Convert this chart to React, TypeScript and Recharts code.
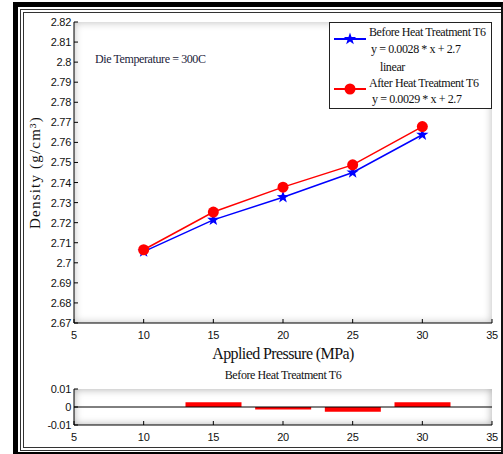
import {
  ComposedChart,
  LineChart,
  Line,
  Bar,
  XAxis,
  YAxis,
  ReferenceLine,
  Legend,
  Label,
} from "recharts";

const SANS = '"Liberation Sans", Arial, sans-serif';
const SERIF = '"Liberation Serif", "Times New Roman", serif';

const pressure = [10, 15, 20, 25, 30];
const beforeT6 = [2.7056, 2.7214, 2.7327, 2.745, 2.7638];
const afterT6 = [2.7065, 2.7253, 2.7377, 2.7488, 2.7679];
const residualBefore = [0, 0.0026, -0.0014, -0.0026, 0.0026];

const xTicks = [5, 10, 15, 20, 25, 30, 35];
const yTicks = [
  2.67, 2.68, 2.69, 2.7, 2.71, 2.72, 2.73, 2.74, 2.75, 2.76, 2.77, 2.78, 2.79,
  2.8, 2.81, 2.82,
];
const resTicks = [-0.01, 0, 0.01];

const legendLines = [
  "Before Heat Treatment T6",
  "y = 0.0028 * x + 2.7",
  "linear",
  "After Heat Treatment T6",
  "y = 0.0029 * x + 2.7",
];

const mainData = pressure.map((p, i) => ({
  p,
  before: beforeT6[i],
  after: afterT6[i],
}));
const resData = pressure.map((p, i) => ({ p, r: residualBefore[i] }));

// eslint-disable-next-line @typescript-eslint/no-explicit-any
function BottomTick(props: any) {
  const { x, y, payload } = props;
  return (
    <g>
      <line x1={x} y1={y} x2={x} y2={y - 4} stroke="#000" />
      <text
        x={x}
        y={y + 16}
        textAnchor="middle"
        fontSize={11}
        fontFamily={SANS}
        letterSpacing={-0.3}
        fill="#111"
      >
        {payload.value}
      </text>
    </g>
  );
}

// eslint-disable-next-line @typescript-eslint/no-explicit-any
function TopTick(props: any) {
  const { x, y } = props;
  return <line x1={x} y1={y} x2={x} y2={y + 4} stroke="#000" />;
}

// eslint-disable-next-line @typescript-eslint/no-explicit-any
function LeftTick(props: any) {
  const { x, y, payload } = props;
  return (
    <g>
      <line x1={x} y1={y} x2={x + 4} y2={y} stroke="#000" />
      <text
        x={x - 3}
        y={y + 4}
        textAnchor="end"
        fontSize={11}
        fontFamily={SANS}
        letterSpacing={-0.3}
        fill="#111"
      >
        {payload.value}
      </text>
    </g>
  );
}

// eslint-disable-next-line @typescript-eslint/no-explicit-any
function RightTick(props: any) {
  const { x, y } = props;
  return <line x1={x} y1={y} x2={x - 4} y2={y} stroke="#000" />;
}

function starPoints(cx: number, cy: number, ro: number, ri: number) {
  const pts: string[] = [];
  for (let k = 0; k < 10; k++) {
    const r = k % 2 === 0 ? ro : ri;
    const a = -Math.PI / 2 + (k * Math.PI) / 5;
    pts.push(`${cx + r * Math.cos(a)},${cy + r * Math.sin(a)}`);
  }
  return pts.join(" ");
}

// eslint-disable-next-line @typescript-eslint/no-explicit-any
function StarDot(props: any) {
  const { cx, cy } = props;
  if (cx == null || cy == null) return null;
  return <polygon points={starPoints(cx, cy, 6.5, 2.6)} fill="#0000ff" />;
}

// eslint-disable-next-line @typescript-eslint/no-explicit-any
function CircleDot(props: any) {
  const { cx, cy } = props;
  if (cx == null || cy == null) return null;
  return <circle cx={cx} cy={cy} r={5.5} fill="#ff0000" />;
}

function LegendBox() {
  const textX = [40, 42, 51, 40, 43];
  const textY = [14, 31, 49, 65, 81];
  return (
    <svg width={164} height={87} style={{ display: "block" }}>
      <rect x={0.5} y={0.5} width={162} height={86} fill="#fff" stroke="#222" />
      <line x1={5} y1={17} x2={37} y2={17} stroke="#0000ff" strokeWidth={2} />
      <polygon points={starPoints(21, 17, 6.5, 2.6)} fill="#0000ff" />
      <line x1={5} y1={67} x2={37} y2={67} stroke="#ff0000" strokeWidth={2} />
      <circle cx={21} cy={67} r={5.5} fill="#ff0000" />
      {legendLines.map((t, i) => (
        <text
          key={t}
          x={textX[i]}
          y={textY[i]}
          fontSize={12}
          fontFamily={SERIF}
          letterSpacing={-0.4}
          fill="#111"
        >
          {t}
        </text>
      ))}
    </svg>
  );
}

export default function App() {
  return (
    <div
      style={{
        position: "absolute",
        left: 0,
        top: 0,
        width: 503,
        height: 454,
        background: "#fff",
        overflow: "hidden",
      }}
    >
      {/* frame */}
      <div
        style={{
          position: "absolute",
          left: 13,
          top: 2,
          width: 490,
          height: 452,
          boxSizing: "border-box",
          borderLeft: "5px solid #000",
          borderTop: "5px solid #000",
          borderRight: "2px solid #111",
          borderBottom: "2px solid #000",
        }}
      />
      <div
        style={{
          position: "absolute",
          left: 20,
          top: 9,
          width: 481,
          height: 442,
          boxSizing: "border-box",
          borderLeft: "4px double #333",
          borderTop: "4px double #333",
          borderBottom: "4px double #333",
        }}
      />
      {/* inset shading of the axes boxes */}
      <div
        style={{
          position: "absolute",
          left: 74,
          top: 22,
          width: 418,
          height: 301,
          boxShadow: "inset 0 0 8px rgba(0,0,0,0.28)",
        }}
      />
      <div
        style={{
          position: "absolute",
          left: 74,
          top: 389,
          width: 418,
          height: 36,
          boxShadow: "inset 0 0 8px rgba(0,0,0,0.35)",
        }}
      />

      <div style={{ position: "absolute", left: 0, top: 0 }}>
        <LineChart
          width={503}
          height={366}
          data={mainData}
          margin={{ top: 22, right: 11, left: 14, bottom: 13 }}
        >
          <XAxis
            dataKey="p"
            type="number"
            domain={[5, 35]}
            ticks={xTicks}
            interval={0}
            height={30}
            tickSize={0}
            tickMargin={0}
            tickLine={false}
            tick={<BottomTick />}
            axisLine={{ stroke: "#000" }}
          >
            <Label
              content={(p: any) => {
                const vb = p.viewBox;
                return (
                  <text
                    x={vb.x + vb.width / 2}
                    y={vb.y + 36}
                    textAnchor="middle"
                    fontSize={16}
                    fontFamily={SERIF}
                    letterSpacing={-0.6}
                    fill="#111"
                  >
                    Applied Pressure (MPa)
                  </text>
                );
              }}
            />
          </XAxis>
          <XAxis
            xAxisId="top"
            orientation="top"
            type="number"
            domain={[5, 35]}
            ticks={xTicks}
            interval={0}
            height={0}
            tickSize={0}
            tickMargin={0}
            tickLine={false}
            tick={<TopTick />}
            axisLine={{ stroke: "#000" }}
          />
          <YAxis
            type="number"
            domain={[2.67, 2.82]}
            ticks={yTicks}
            interval={0}
            width={60}
            tickSize={0}
            tickMargin={0}
            tickLine={false}
            tick={<LeftTick />}
            axisLine={{ stroke: "#000" }}
          >
            <Label
              content={(p: any) => {
                const vb = p.viewBox;
                const cx = vb.x + 26;
                const cy = vb.y + vb.height / 2;
                return (
                  <text
                    x={cx}
                    y={cy}
                    transform={`rotate(-90 ${cx} ${cy})`}
                    textAnchor="middle"
                    fontSize={15}
                    fontFamily={SERIF}
                    letterSpacing={1.2}
                    fill="#111"
                  >
                    Density (g/cm³)
                  </text>
                );
              }}
            />
          </YAxis>
          <YAxis
            yAxisId="r"
            orientation="right"
            type="number"
            domain={[2.67, 2.82]}
            ticks={yTicks}
            interval={0}
            width={0}
            tickSize={0}
            tickMargin={0}
            tickLine={false}
            tick={<RightTick />}
            axisLine={{ stroke: "#000" }}
          />
          <Line
            dataKey="before"
            name="Before Heat Treatment T6"
            stroke="#0000ff"
            strokeWidth={1.5}
            dot={<StarDot />}
            activeDot={false}
            isAnimationActive={false}
          />
          <Line
            dataKey="after"
            name="After Heat Treatment T6"
            stroke="#ff0000"
            strokeWidth={1.5}
            dot={<CircleDot />}
            activeDot={false}
            isAnimationActive={false}
          />
          <Legend
            layout="horizontal"
            verticalAlign="middle"
            align="center"
            content={<LegendBox />}
            wrapperStyle={{
              position: "absolute",
              left: 329,
              top: 22,
              width: 164,
              height: 87,
            }}
          />
        </LineChart>
      </div>

      <div
        style={{
          position: "absolute",
          left: 95,
          top: 52,
          fontFamily: SERIF,
          fontSize: 12,
          letterSpacing: -0.4,
          color: "#22223a",
          whiteSpace: "nowrap",
          lineHeight: "14px",
        }}
      >
        Die Temperature = 300C
      </div>

      <div
        style={{
          position: "absolute",
          left: 74,
          top: 368,
          width: 418,
          textAlign: "center",
          fontFamily: SERIF,
          fontSize: 12,
          letterSpacing: -0.4,
          color: "#111",
          whiteSpace: "nowrap",
          lineHeight: "14px",
        }}
      >
        Before Heat Treatment T6
      </div>

      <div style={{ position: "absolute", left: 0, top: 360 }}>
        <ComposedChart
          width={503}
          height={94}
          data={resData}
          margin={{ top: 29, right: 11, left: 14, bottom: 9 }}
        >
          <XAxis
            dataKey="p"
            type="number"
            domain={[5, 35]}
            ticks={xTicks}
            interval={0}
            height={20}
            tickSize={0}
            tickMargin={0}
            tickLine={false}
            tick={<BottomTick />}
            axisLine={{ stroke: "#000" }}
          />
          <XAxis
            xAxisId="top"
            orientation="top"
            type="number"
            domain={[5, 35]}
            ticks={xTicks}
            interval={0}
            height={0}
            tickSize={0}
            tickMargin={0}
            tickLine={false}
            tick={<TopTick />}
            axisLine={{ stroke: "#000" }}
          />
          <YAxis
            type="number"
            domain={[-0.01, 0.01]}
            ticks={resTicks}
            interval={0}
            width={60}
            tickSize={0}
            tickMargin={0}
            tickLine={false}
            tick={<LeftTick />}
            axisLine={{ stroke: "#000" }}
          />
          <YAxis
            yAxisId="r"
            orientation="right"
            type="number"
            domain={[-0.01, 0.01]}
            ticks={resTicks}
            interval={0}
            width={0}
            tickSize={0}
            tickMargin={0}
            tickLine={false}
            tick={false}
            axisLine={{ stroke: "#000" }}
          />
          <ReferenceLine y={0} stroke="#000" strokeWidth={1} />
          <Bar
            dataKey="r"
            fill="#ff0000"
            barSize={56}
            isAnimationActive={false}
          />
        </ComposedChart>
      </div>
    </div>
  );
}
